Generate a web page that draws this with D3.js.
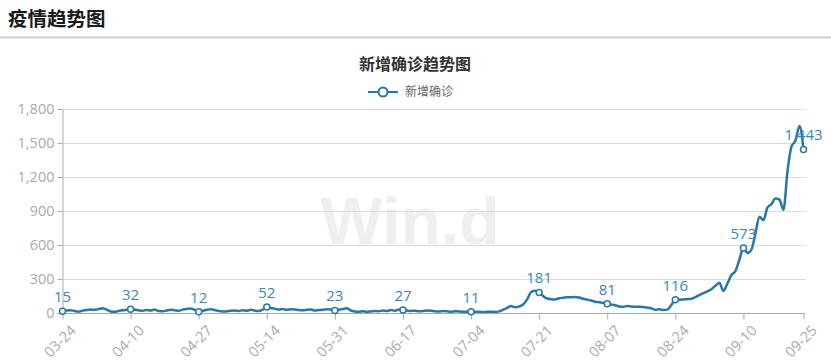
<!DOCTYPE html>
<html>
<head>
<meta charset="utf-8">
<script src="https://cdn.jsdelivr.net/npm/d3@7"></script>
<style>
body { margin: 0; background: #fff; font-family: "Noto Sans CJK SC", "Noto Sans", sans-serif; }
</style>
</head>
<body>
<div id="chart"></div>
<script>
// 日期: 03-24 ~ 09-25
var startDate = new Date(2020, 2, 24);
var dayCount = 186;
var dates = [];
for (var i = 0; i < dayCount; i++) {
	var d = new Date(startDate);
	d.setDate(d.getDate() + i);
	dates.push(d3.timeFormat("%m-%d")(d));
}

// 新增确诊
var cases = [
	15, 22, 25, 18, 12, 20, 26, 30, 28, 35, 42, 30, 14, 10, 18, 24, 28, 32,
	30, 24, 20, 26, 22, 30, 18, 15, 22, 28, 24, 20, 30, 36, 40, 28, 12,
	20, 28, 34, 26, 18, 14, 16, 20, 22, 18, 24, 20, 28, 22, 18, 30, 52,
	45, 38, 30, 35, 28, 32, 30, 26, 24, 28, 30, 22, 26, 28, 32, 30, 23,
	28, 35, 42, 22, 14, 12, 16, 10, 14, 18, 15, 22, 18, 26, 20, 30, 27,
	22, 18, 20, 16, 18, 22, 20, 16, 14, 18, 15, 12, 16, 14, 12, 10, 11,
	10, 12, 8, 10, 12, 9, 14, 30, 45, 62, 50, 58, 75, 120, 185, 196, 181,
	150, 128, 122, 120, 130, 135, 140, 138, 142, 136, 125, 118, 110, 100, 95, 90, 81,
	75, 68, 58, 55, 62, 58, 55, 56, 52, 48, 42, 28, 32, 26, 30, 70, 116,
	118, 120, 122, 125, 140, 158, 175, 190, 210, 240, 268, 195, 260, 335, 370, 470, 573,
	530, 560, 700, 850, 820, 930, 960, 1010, 1000, 910, 1250, 1470, 1520, 1650, 1443
];

var yTicks = [0, 300, 600, 900, 1200, 1500, 1800];

var width = 831, height = 364;
var lineColor = "#2878a6";

var svg = d3.select("#chart").append("svg")
	.attr("width", width)
	.attr("height", height);

// 页面标题
svg.append("text")
	.attr("x", 8)
	.attr("y", 26)
	.attr("font-size", 19.5)
	.attr("font-weight", "bold")
	.attr("fill", "#1a1a1a")
	.text("疫情趋势图");

svg.append("line")
	.attr("x1", 0).attr("x2", width)
	.attr("y1", 37.5).attr("y2", 37.5)
	.attr("stroke", "#ccc")
	.attr("stroke-width", 2);

// 水印
svg.append("text")
	.attr("x", 410)
	.attr("y", 244)
	.attr("text-anchor", "middle")
	.attr("font-family", "Arial, Liberation Sans, sans-serif")
	.attr("font-size", 66)
	.attr("font-weight", "bold")
	.attr("fill", "#efefef")
	.text("Win.d");

// 图表标题
svg.append("text")
	.attr("x", 415)
	.attr("y", 70)
	.attr("text-anchor", "middle")
	.attr("font-size", 16)
	.attr("font-weight", "bold")
	.attr("fill", "#333")
	.text("新增确诊趋势图");

// 图例
var legend = svg.append("g").attr("transform", "translate(368, 92)");
legend.append("line")
	.attr("x1", 0).attr("x2", 30)
	.attr("stroke", lineColor).attr("stroke-width", 2);
legend.append("circle")
	.attr("cx", 15).attr("r", 4.5)
	.attr("fill", "#fff").attr("stroke", lineColor).attr("stroke-width", 2);
legend.append("text")
	.attr("x", 37).attr("y", 4)
	.attr("font-size", 12)
	.attr("fill", "#666")
	.text("新增确诊");

var xScale = d3.scalePoint()
	.domain(dates)
	.range([62.5, 803.5]);

var yScale = d3.scaleLinear()
	.domain([0, 1800])
	.range([313, 109]);

// 网格线
svg.append("g")
	.selectAll("line")
	.data(yTicks.slice(1))
	.enter()
	.append("line")
	.attr("x1", 62).attr("x2", 806)
	.attr("y1", function(d) { return Math.round(yScale(d)) + 0.5; })
	.attr("y2", function(d) { return Math.round(yScale(d)) + 0.5; })
	.attr("stroke", "#dcdcdc");

// 纵轴
var yAxis = d3.axisLeft(yScale)
	.tickValues(yTicks)
	.tickFormat(d3.format(","))
	.tickSize(5)
	.tickPadding(3);

var gy = svg.append("g")
	.attr("transform", "translate(62.5, 0)")
	.call(yAxis);
gy.select(".domain").attr("stroke", "#aaa");
gy.selectAll(".tick line").attr("stroke", "#aaa");
gy.selectAll("text")
	.attr("fill", "#aaa")
	.attr("font-size", 14.5)
	.attr("font-family", "Open Sans, Noto Sans, sans-serif");

// 横轴
var labelIdx = [];
for (var k = 0; k < dayCount; k += 17) labelIdx.push(k);
labelIdx.push(dayCount - 1);

var xAxis = d3.axisBottom(xScale)
	.tickValues(labelIdx.map(function(k) { return dates[k]; }))
	.tickSize(6)
	.tickSizeOuter(0);

var gx = svg.append("g")
	.attr("transform", "translate(0, 313.5)")
	.call(xAxis);
gx.select(".domain").attr("stroke", "#aaa").attr("d", "M62.5,0H805");
gx.selectAll(".tick line").attr("stroke", "#aaa");
gx.selectAll("text")
	.attr("fill", "#aaa")
	.attr("font-size", 14.5)
	.attr("font-family", "Open Sans, Noto Sans, sans-serif")
	.attr("text-anchor", "end")
	.attr("dy", "0.35em")
	.attr("transform", "translate(4, 8) rotate(-45)");

// 折线
var line = d3.line()
	.x(function(d, i) { return xScale(dates[i]); })
	.y(function(d) { return yScale(d); })
	.curve(d3.curveMonotoneX);

svg.append("path")
	.datum(cases)
	.attr("d", line)
	.attr("fill", "none")
	.attr("stroke", lineColor)
	.attr("stroke-width", 2.5);

// 标记点
var marks = labelIdx.map(function(k) { return { date: dates[k], value: cases[k] }; });

svg.append("g")
	.selectAll("circle")
	.data(marks)
	.enter()
	.append("circle")
	.attr("cx", function(d) { return xScale(d.date); })
	.attr("cy", function(d) { return yScale(d.value); })
	.attr("r", 3)
	.attr("fill", "#fff")
	.attr("stroke", lineColor)
	.attr("stroke-width", 1.5);

svg.append("g")
	.selectAll("text")
	.data(marks)
	.enter()
	.append("text")
	.attr("x", function(d) { return xScale(d.date); })
	.attr("y", function(d) { return yScale(d.value) - 9; })
	.attr("text-anchor", "middle")
	.attr("font-size", 15)
	.attr("font-family", "Open Sans, Noto Sans, sans-serif")
	.attr("fill", "#3a87b5")
	.text(function(d) { return d3.format(",")(d.value); });
</script>
</body>
</html>
